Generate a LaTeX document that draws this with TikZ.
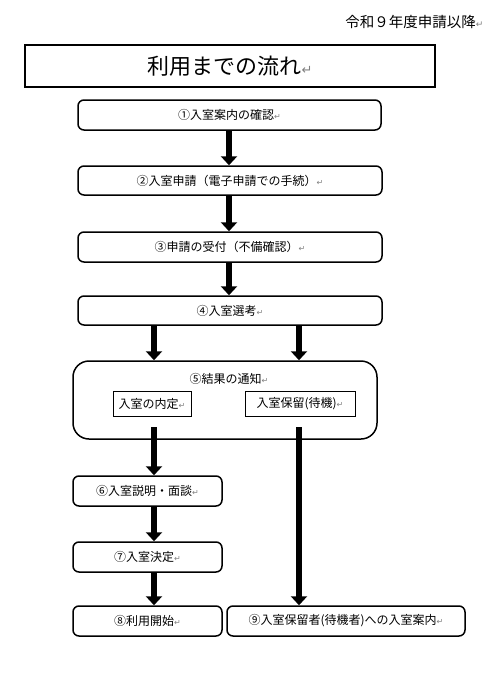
\documentclass[tikz,border=0pt]{standalone}
\usepackage{fontspec}
\setmainfont{Noto Sans CJK JP}
\newfontfamily\markfont{DejaVu Sans}
\usepackage{tikz}
\usetikzlibrary{arrows.meta}
\newcommand{\retmk}[1][8]{{\markfont\fontsize{#1}{#1}\selectfont\textcolor{gray}{↵}}}

\begin{document}
\begin{tikzpicture}[x=1pt,y=-1pt,
 stepbox/.style={draw,line width=1.5pt,rounded corners=6pt,minimum height=30pt,inner sep=0pt,font=\fontsize{12}{14}\selectfont},
 subbox/.style={draw,line width=0.8pt,minimum height=25pt,inner sep=0pt,font=\fontsize{12}{14}\selectfont},
 bigarrow/.style={line width=6.5pt,-{Triangle[width=16pt,length=9pt]}}]
\useasboundingbox (0,0) rectangle (488,675);
\node [anchor=east,font=\fontsize{14.5}{16}\selectfont] (year) at (487,22) {令和９年度申請以降\retmk[9]};
\node [draw,line width=2.5pt,minimum width=410pt,minimum height=42pt,font=\fontsize{22}{24}\selectfont] (title) at (230,66) {利用までの流れ\retmk[13]};
\node [stepbox,minimum width=303pt] (guide) at (229.5,115) {①入室案内の確認\retmk};
\node [stepbox,minimum width=304pt,minimum height=29pt] (apply) at (230,180.5) {②入室申請（電子申請での手続）\retmk};
\node [stepbox,minimum width=304pt] (accept) at (230,247) {③申請の受付（不備確認）\retmk};
\node [stepbox,minimum width=304pt,minimum height=29pt] (select) at (230,310.5) {④入室選考\retmk};
\node [stepbox,minimum width=304pt,minimum height=78pt,rounded corners=16pt] (notice) at (225,400) {};
\node [font=\fontsize{12}{14}\selectfont] (noticetxt) at (229,379) {⑤結果の通知\retmk};
\node [subbox,minimum width=78pt] (naitei) at (152,403.5) {入室の内定\retmk};
\node [subbox,minimum width=110pt] (horyu) at (300,403.5) {入室保留(待機)\retmk};
\node [stepbox,minimum width=149pt] (explain) at (147.5,491) {⑥入室説明・面談\retmk};
\node [stepbox,minimum width=149pt] (decide) at (147.5,557) {⑦入室決定\retmk};
\node [stepbox,minimum width=149pt] (start) at (147.5,621) {⑧利用開始\retmk};
\node [stepbox,minimum width=238pt] (waitlist) at (346,621) {⑨入室保留者(待機者)への入室案内\retmk};
\coordinate (lft) at (154,427);
\coordinate (rgt) at (299,427);
\draw [bigarrow] (guide.south -| 229,0) -- (apply.north -| 229,0);
\draw [bigarrow] (apply.south -| 229,0) -- (accept.north -| 229,0);
\draw [bigarrow] (accept.south -| 229,0) -- (select.north -| 229,0);
\draw [bigarrow] (lft |- select.south) -- (lft |- notice.north);
\draw [bigarrow] (rgt |- select.south) -- (rgt |- notice.north);
\draw [bigarrow] (lft) -- (lft |- explain.north);
\draw [bigarrow] (lft |- explain.south) -- (lft |- decide.north);
\draw [bigarrow] (lft |- decide.south) -- (lft |- start.north);
\draw [bigarrow] (rgt) -- (rgt |- waitlist.north);
\end{tikzpicture}
\end{document}
